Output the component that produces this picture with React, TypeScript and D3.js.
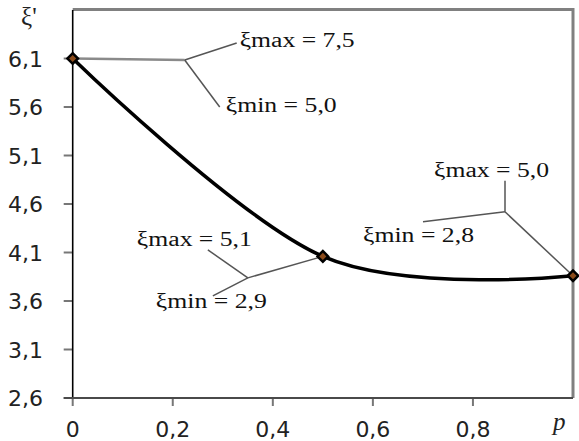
import React from 'react'
import * as d3 from 'd3'

// values
const pValues = [0, 0.5, 1]
const xiValues = [6.1, 4.06, 3.86]
const xiMaxLabels = ['7,5', '5,1', '5,0']
const xiMinLabels = ['5,0', '2,9', '2,8']
const yTicks = [2.6, 3.1, 3.6, 4.1, 4.6, 5.1, 5.6, 6.1]
const xTicks = [0, 0.2, 0.4, 0.6, 0.8]

// callout layout, pixel offsets from each marker
const callouts = [
  { elbow: [112, 1.5], maxEnd: [164, -15.5], minEnd: [147, 48.5], maxText: [167, -11.5], minText: [153, 53], thick: true },
  { elbow: [-75, 21.5], maxEnd: [-115, -6.5], minEnd: [-110, 39.5], maxText: [-186, -10], minText: [-167, 51.5], thick: false },
  { elbow: [-68, -64], maxEnd: [-68, -95], minEnd: [-150, -54], maxText: [-139, -99], minText: [-210, -34], thick: false },
]

const width = 579
const height = 441
const margin = { left: 72.7, right: 6, top: 10, bottom: 43 }

const locale = d3.formatLocale({ decimal: ',', thousands: ' ', grouping: [3], currency: ['', ''] })
const fmtY = locale.format('.1f')
const fmtX = locale.format('~g')

const App = () => {
  const x = d3.scaleLinear().domain([0, 1]).range([margin.left, width - margin.right])
  const y = d3.scaleLinear().domain([2.6, 6.6]).range([height - margin.bottom, margin.top])

  const pts: [number, number][] = pValues.map((p, i) => [x(p), y(xiValues[i])])
  const line = d3.line().curve(d3.curveCardinal.tension(0))
  const marker = d3.symbol().type(d3.symbolSquare).size(56)

  const x0 = x(0), x1 = x(1), yb = y(2.6), yt = y(6.6)
  const serif = '"Liberation Serif", "Times New Roman", serif'
  const sans = '"DejaVu Sans", Verdana, sans-serif'

  return (
    <svg width={width} height={height} style={{ position: 'absolute', left: 0, top: 0, background: '#fff' }}>
      {/* plot border */}
      <line x1={x0} x2={x1} y1={yt - 0.5} y2={yt - 0.5} stroke="#808080" strokeWidth={3} />
      <line x1={x1} x2={x1} y1={yt - 2} y2={yb} stroke="#808080" strokeWidth={3} />

      {/* y axis */}
      {yTicks.map(t => (
        <g key={'y' + t}>
          <line x1={x0 - 9} x2={x0} y1={y(t)} y2={y(t)} stroke="#777" strokeWidth={2} />
          <text x={43} y={y(t) + 8} textAnchor="end" fontFamily={sans} fontSize={22} fill="#222">{fmtY(t)}</text>
        </g>
      ))}
      <line x1={x0} x2={x0} y1={yt} y2={yb} stroke="#000" strokeWidth={1.6} />

      {/* x axis */}
      {xTicks.map(t => (
        <g key={'x' + t}>
          <line x1={x(t)} x2={x(t)} y1={yb} y2={yb + 8} stroke="#777" strokeWidth={2} />
          <text x={x(t)} y={436.5} textAnchor="middle" fontFamily={sans} fontSize={22} fill="#222">{fmtX(t)}</text>
        </g>
      ))}
      <line x1={x0 - 9} x2={x1} y1={yb} y2={yb} stroke="#4a4a4a" strokeWidth={2} />

      <text x={21} y={25} fontFamily={serif} fontSize={25} fill="#222">ξ'</text>
      <text x={553} y={430} fontFamily={serif} fontStyle="italic" fontSize={25} fill="#222">p</text>

      {/* callouts */}
      {callouts.map((c, i) => {
        const [px, py] = pts[i]
        const ex = px + c.elbow[0], ey = py + c.elbow[1]
        return (
          <g key={'c' + i}>
            <line x1={px} y1={py} x2={ex} y2={ey} stroke={c.thick ? '#8a8a8a' : '#555'} strokeWidth={c.thick ? 2.5 : 1.5} />
            <line x1={ex} y1={ey} x2={px + c.maxEnd[0]} y2={py + c.maxEnd[1]} stroke="#555" strokeWidth={1.5} />
            <line x1={ex} y1={ey} x2={px + c.minEnd[0]} y2={py + c.minEnd[1]} stroke="#555" strokeWidth={1.5} />
            <text x={px + c.maxText[0]} y={py + c.maxText[1]} fontFamily={serif} fontSize={20} fill="#111"
              textLength={115} lengthAdjust="spacingAndGlyphs">{`ξmax = ${xiMaxLabels[i]}`}</text>
            <text x={px + c.minText[0]} y={py + c.minText[1]} fontFamily={serif} fontSize={20} fill="#111"
              textLength={111} lengthAdjust="spacingAndGlyphs">{`ξmin = ${xiMinLabels[i]}`}</text>
          </g>
        )
      })}

      {/* curve */}
      <path d={line(pts) || ''} fill="none" stroke="#000" strokeWidth={3.5} />
      {pts.map((p, i) => (
        <path key={'m' + i} d={marker() || ''} transform={`translate(${p[0]},${p[1]}) rotate(45)`}
          fill="#8a4a1a" stroke="#000" strokeWidth={2.5} />
      ))}
    </svg>
  )
}

export default App
